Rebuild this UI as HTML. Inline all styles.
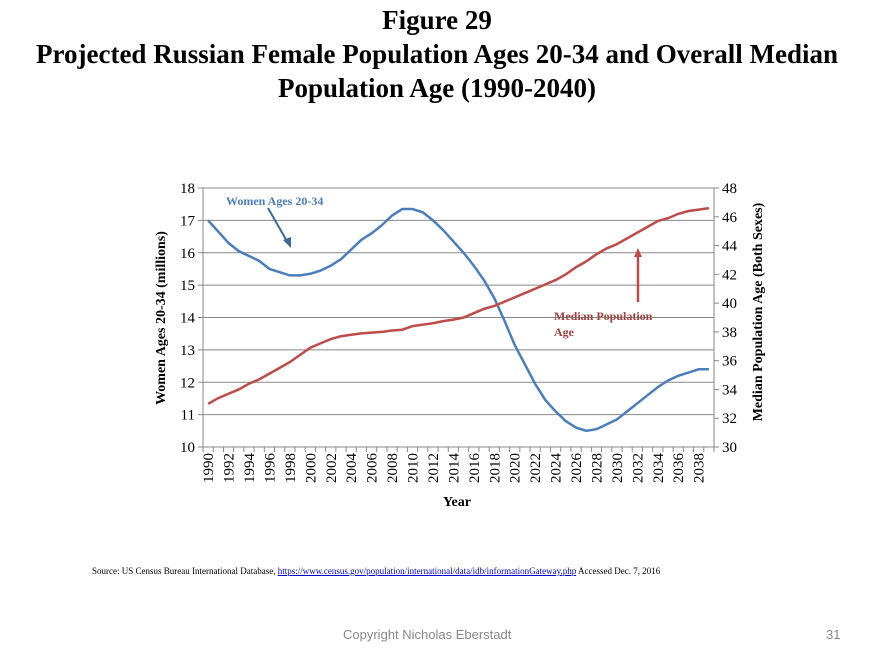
<!DOCTYPE html>
<html><head><meta charset="utf-8"><style>
body{margin:0;background:#fff;width:874px;height:661px;overflow:hidden;position:relative;font-family:"Liberation Serif",serif}
.t{position:absolute;left:0;width:874px;text-align:center;font-weight:bold;font-size:27px;color:#000}
</style></head><body>
<div class="t" style="top:5px">Figure 29</div>
<div class="t" style="top:37px;line-height:34px">Projected Russian Female Population Ages 20-34 and Overall Median<br>Population Age (1990-2040)</div>
<svg width="874" height="661" style="position:absolute;left:0;top:0">
<g id="grid"></g>
<g id="axes"></g>
<g id="series"></g>
</svg>
<div style="position:absolute;left:92px;top:566px;font-size:9px;font-family:'Liberation Serif',serif;white-space:nowrap">Source: US Census Bureau International Database, <span style="color:#00c;text-decoration:underline">https://www.census.gov/population/international/data/idb/informationGateway.php</span> Accessed Dec. 7, 2016</div>
<div style="position:absolute;left:343px;top:627px;font-size:13px;color:#888;font-family:'Liberation Sans',sans-serif">Copyright Nicholas Eberstadt</div>
<div style="position:absolute;left:826px;top:627px;font-size:13px;color:#888;font-family:'Liberation Sans',sans-serif">31</div>
<script>
const years=[];for(let y=1990;y<=2039;y++)years.push(y);
const women=[17.0,16.65,16.3,16.05,15.9,15.75,15.5,15.4,15.3,15.3,15.35,15.45,15.6,15.8,16.1,16.4,16.6,16.85,17.15,17.35,17.35,17.25,17.0,16.7,16.35,16.0,15.6,15.15,14.6,13.9,13.15,12.55,11.95,11.45,11.1,10.8,10.6,10.5,10.55,10.7,10.85,11.1,11.35,11.6,11.85,12.05,12.2,12.3,12.4,12.4];
const median=[33.0,33.4,33.7,34.0,34.4,34.7,35.1,35.5,35.9,36.4,36.9,37.2,37.5,37.7,37.8,37.9,37.95,38.0,38.1,38.15,38.4,38.5,38.6,38.75,38.85,39.0,39.3,39.6,39.8,40.1,40.4,40.7,41.0,41.3,41.6,42.0,42.5,42.9,43.4,43.8,44.1,44.5,44.9,45.3,45.7,45.9,46.2,46.4,46.5,46.6];
const leftTicks=[10,11,12,13,14,15,16,17,18];
const rightTicks=[30,32,34,36,38,40,42,44,46,48];
const L=203,R=714,T=188,B=447,NS="http://www.w3.org/2000/svg";
const bw=(R-L)/years.length;
const xs=i=>L+(i+0.5)*bw;
const yl=v=>B-(v-10)/8*(B-T);
const yr=v=>B-(v-30)/18*(B-T);
function mk(p,tag,a,txt){const e=document.createElementNS(NS,tag);for(const k in a)e.setAttribute(k,a[k]);if(txt!=null)e.textContent=txt;p.appendChild(e);return e;}
const grid=document.getElementById('grid'),axes=document.getElementById('axes'),ser=document.getElementById('series');
leftTicks.forEach(v=>{
 const g=mk(grid,'line',{x1:L,x2:R,y1:yl(v),y2:yl(v),stroke:'#888','stroke-width':1});
 
 
 mk(axes,'line',{x1:L-5,x2:L,y1:yl(v),y2:yl(v),stroke:'#888'});
 const t=mk(axes,'text',{x:L-8,y:yl(v)+5,'text-anchor':'end','font-size':15,'font-family':'Liberation Serif'},v);
 
 
});
rightTicks.forEach(v=>{
 mk(axes,'line',{x1:R,x2:R+5,y1:yr(v),y2:yr(v),stroke:'#888'});
 const t=mk(axes,'text',{x:R+8,y:yr(v)+5,'font-size':15,'font-family':'Liberation Serif'},v);
 
 
});
mk(axes,'line',{x1:L,x2:L,y1:T,y2:B,stroke:'#888'});
mk(axes,'line',{x1:R,x2:R,y1:T,y2:B,stroke:'#888'});
mk(axes,'line',{x1:L,x2:R,y1:B,y2:B,stroke:'#888'});
years.forEach((y,i)=>{
 mk(axes,'line',{x1:L+i*bw,x2:L+i*bw,y1:B,y2:B+5,stroke:'#888'});
 if(i%2==0){const x=xs(i)+5,yy=B+6;
  const t=mk(axes,'text',{x:x,y:yy,transform:`rotate(-90 ${x} ${yy})`,'text-anchor':'end','font-size':15,'font-family':'Liberation Serif'},y);
  
  }
});
mk(axes,'line',{x1:R,x2:R,y1:B,y2:B+5,stroke:'#888'});
const pw=mk(ser,'polyline',{points:women.map((v,i)=>xs(i)+','+yl(v)).join(' '),fill:'none',stroke:'#4a7ebb','stroke-width':2.5});


const pm=mk(ser,'polyline',{points:median.map((v,i)=>xs(i)+','+yr(v)).join(' '),fill:'none',stroke:'#be4b48','stroke-width':2.5});


const svg=document.querySelector('svg');
const a=mk(svg,'text',{x:226,y:205,'font-size':12,'font-weight':'bold',fill:'#4a7ebb','font-family':'Liberation Serif'},'Women Ages 20-34');

mk(svg,'line',{x1:268,y1:208,x2:288,y2:243,stroke:'#3d6a9a','stroke-width':2});
mk(svg,'polygon',{points:'291,248 283,240 291,237',fill:'#3d6a9a'});
const b=mk(svg,'text',{x:554,y:320,'font-size':12,'font-weight':'bold',fill:'#a0403c','font-family':'Liberation Serif'},'Median Population');

mk(svg,'text',{x:554,y:336,'font-size':12,'font-weight':'bold',fill:'#a0403c','font-family':'Liberation Serif'},'Age');
mk(svg,'line',{x1:638,y1:302,x2:638,y2:256,stroke:'#be4b48','stroke-width':2.5});
mk(svg,'polygon',{points:'638,248 634,257 642,257',fill:'#be4b48'});
const lt=mk(svg,'text',{x:0,y:0,transform:'translate(165,318) rotate(-90)','text-anchor':'middle','font-size':14,'font-weight':'bold','font-family':'Liberation Serif'},'Women Ages 20-34 (millions)');

const rt=mk(svg,'text',{x:0,y:0,transform:'translate(762,312) rotate(-90)','text-anchor':'middle','font-size':14,'font-weight':'bold','font-family':'Liberation Serif'},'Median Population Age (Both Sexes)');

const xt=mk(svg,'text',{x:457,y:506,'text-anchor':'middle','font-size':14,'font-weight':'bold','font-family':'Liberation Serif'},'Year');

</script>
</body></html>
